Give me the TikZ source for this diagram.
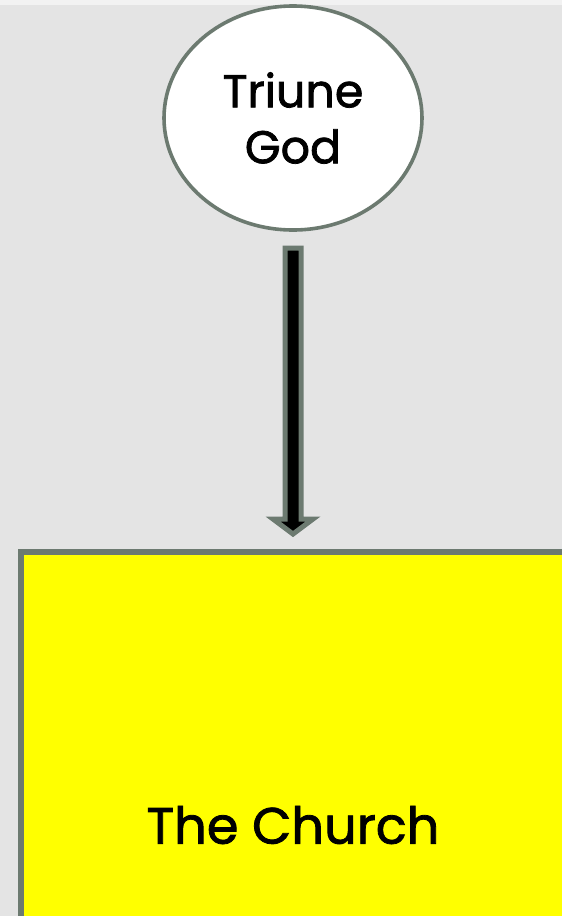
\documentclass[tikz,border=0pt]{standalone}
\usepackage{fontspec}
\setmainfont{Poppins}[FakeBold=1.6]
\definecolor{bggrey}{HTML}{E4E4E4}
\definecolor{topstrip}{HTML}{F2F2F2}
\definecolor{edge}{HTML}{6C7A70}
\definecolor{churchyellow}{HTML}{FFFF00}
\tikzset{
  godnode/.style={ellipse, draw=edge, line width=3.6pt, fill=white, minimum width=258pt, minimum height=224pt, inner sep=0pt, align=center, font=\fontsize{46}{56}\selectfont},
  blockarrow/.style={draw=edge, fill=black, line width=5pt, line join=miter},
  churchbox/.style={draw=edge, fill=churchyellow, line width=6pt},
  churchtext/.style={font=\fontsize{51}{60}\selectfont, inner sep=0pt}
}
\usetikzlibrary{shapes.geometric}
\begin{document}
\begin{tikzpicture}[x=1pt,y=-1pt]
\useasboundingbox (0,0) rectangle (562,916);
\fill[bggrey] (0,0) rectangle (562,916);
\fill[topstrip] (0,0) rectangle (562,5);
\node[godnode] (god) at (293,118) {Triune\\God};
\draw[blockarrow] (285,248) -- (301,248) -- (301,519) -- (313,519) -- (293,534) -- (273,519) -- (285,519) -- cycle;
\coordinate (arrowtip) at (293,534);
\draw[churchbox] (21,552) rectangle (600,960);
\node[churchtext] (church) at (293,825) {The Church};
\end{tikzpicture}
\end{document}
